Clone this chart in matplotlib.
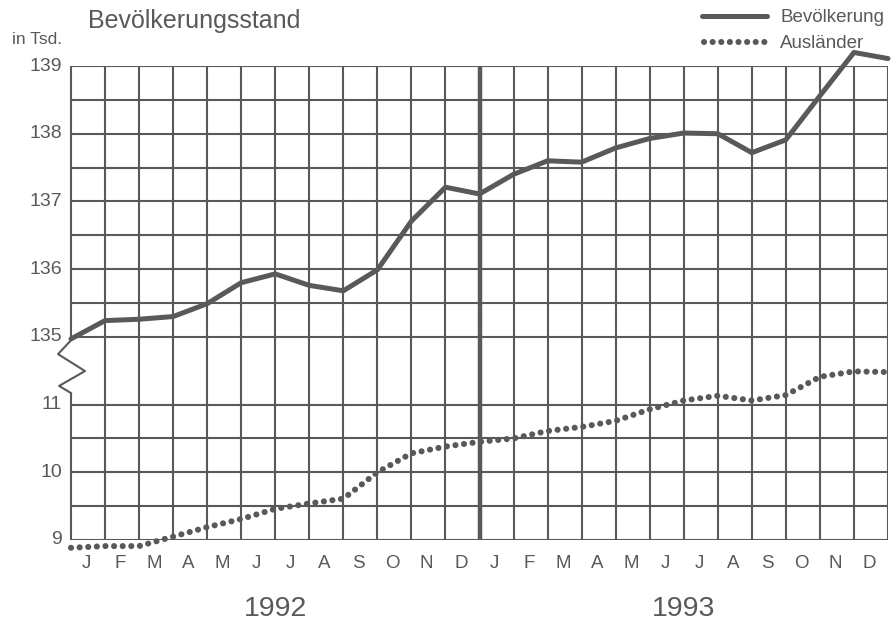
import numpy as np
import matplotlib
matplotlib.use('Agg')
import matplotlib.pyplot as plt

plt.rcParams['font.family'] = ['Liberation Sans', 'DejaVu Sans']

# données (valeur en fin de mois, 1er point = début janvier 1992)
bevoelkerung = [134.97, 135.24, 135.26, 135.30, 135.49, 135.80, 135.93, 135.76,
                135.68, 135.99, 136.71, 137.21, 137.11, 137.40, 137.60, 137.58,
                137.79, 137.93, 138.01, 138.00, 137.72, 137.91, 138.56, 139.20, 139.11]
auslaender = [8.885, 8.91, 8.91, 9.05, 9.19, 9.31, 9.46, 9.54, 9.61, 10.00,
              10.28, 10.38, 10.45, 10.50, 10.61, 10.67, 10.76, 10.93, 11.06,
              11.13, 11.06, 11.14, 11.41, 11.49, 11.48]
monate = ['J', 'F', 'M', 'A', 'M', 'J', 'J', 'A', 'S', 'O', 'N', 'D'] * 2
jahre = ['1992', '1993']
ticks_oben = [135, 136, 137, 138, 139]
ticks_unten = [9, 10, 11]

grau = '#595959'
pointille = (0, (0.01, 1.4))


def y_oben(v):  # échelle coupée: partie haute (135-139)
    return 6 + 2 * (np.asarray(v) - 135)


def y_unten(v):  # partie basse (9-11)
    return 2 * (np.asarray(v) - 9)


fig = plt.figure(figsize=(8.96, 6.27), dpi=100)
ax = fig.add_axes([71 / 896, 1 - 540 / 627, 817 / 896, 474 / 627])
ax.set_xlim(0, 24)
ax.set_ylim(0, 14)
for s in ax.spines.values():
    s.set_visible(False)
ax.set_xticks([])
ax.set_yticks([])

# grille
lignes_h = [y for y in range(15) if y != 5]
ax.hlines(lignes_h, 0, 24, color=grau, lw=1.5, zorder=1)
ax.vlines(range(1, 25), 0, 14, color=grau, lw=1.5, zorder=1)
ax.vlines(12, 0, 14, color=grau, lw=3.2, zorder=1)
# axe gauche avec la coupure en zigzag
ax.plot([0, 0], [0, 4.34], color=grau, lw=1.5, solid_capstyle='butt', clip_on=False)
ax.plot([0, 0], [5.9, 14], color=grau, lw=1.5, solid_capstyle='butt', clip_on=False)
ax.plot([0, -0.38, 0.41, -0.35, 0], [5.9, 5.49, 4.99, 4.55, 4.34],
        color=grau, lw=1.5, clip_on=False)

x = np.arange(len(bevoelkerung))
ax.plot(x, y_oben(bevoelkerung), color=grau, lw=3.6, solid_joinstyle='round',
        solid_capstyle='round', clip_on=False, zorder=3)
ax.plot(x, y_unten(auslaender), color=grau, lw=4.4, linestyle=pointille,
        dash_capstyle='round', clip_on=False, zorder=3)

# étiquettes de l'axe y
for v in ticks_oben:
    ax.text(-0.27, y_oben(v), str(v), ha='right', va='center', fontsize=14, color=grau)
for v in ticks_unten:
    ax.text(-0.27, y_unten(v), str(v), ha='right', va='center', fontsize=14, color=grau)
ax.text(-0.26, 14.55, 'in Tsd.', ha='right', va='bottom', fontsize=12.5, color=grau)

# mois et années
for i, m in enumerate(monate):
    ax.text(i + 0.45, -0.7, m, ha='center', va='center', fontsize=13.5, color=grau)
for j, a in enumerate(jahre):
    ax.text(6 + 12 * j, -2.05, a, ha='center', va='center', fontsize=20.5, color=grau)

fig.text(88 / 896, 1 - 21 / 627, 'Bevölkerungsstand', ha='left', va='center',
         fontsize=18, color=grau)

# légende
fig.add_artist(plt.Line2D([702 / 896, 767 / 896], [1 - 16 / 627] * 2, color=grau, lw=3.6,
                          solid_capstyle='round'))
fig.add_artist(plt.Line2D([704 / 896, 766 / 896], [1 - 42 / 627] * 2, color=grau, lw=4.4,
                          linestyle=pointille, dash_capstyle='round'))
fig.text(780 / 896, 1 - 17 / 627, 'Bevölkerung', ha='left', va='center', fontsize=13.5, color=grau)
fig.text(780 / 896, 1 - 43 / 627, 'Ausländer', ha='left', va='center', fontsize=13.5, color=grau)

fig.savefig('out.png', dpi=100, facecolor='white')
